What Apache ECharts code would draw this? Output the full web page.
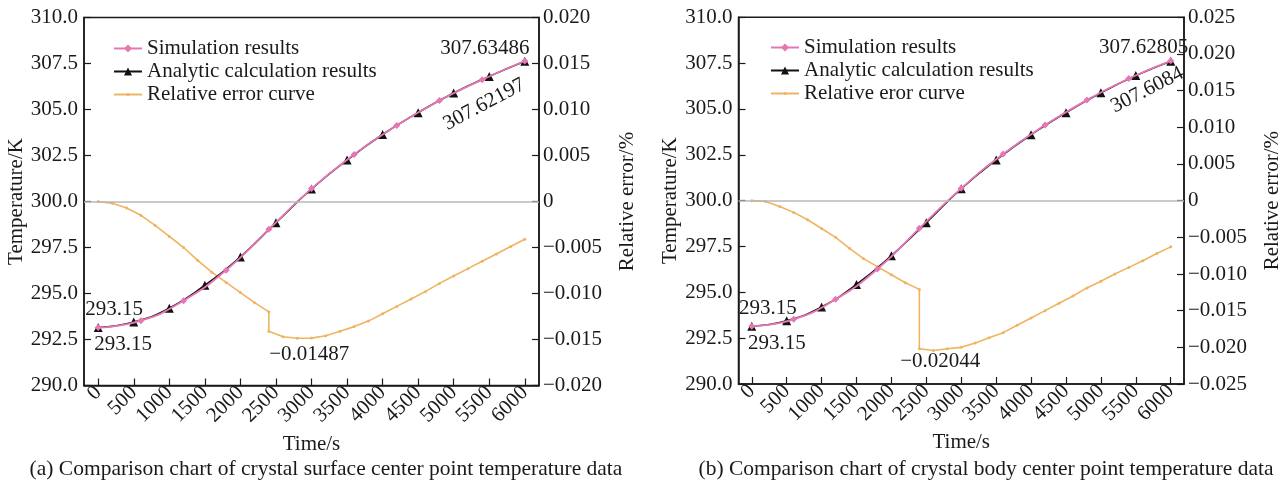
<!DOCTYPE html>
<html>
<head>
<meta charset="utf-8">
<title>Crystal temperature comparison</title>
<script src="https://cdn.jsdelivr.net/npm/echarts@6/dist/echarts.min.js"></script>
<style>
  html, body { margin: 0; padding: 0; background: #fff; }
  #main { width: 1284px; height: 480px; }
</style>
</head>
<body>
<div id="main"></div>
<script>
// tick positions on the time axis
var timeTicks = [0, 500, 1000, 1500, 2000, 2500, 3000, 3500, 4000, 4500, 5000, 5500, 6000];

// sample times
var simTimes = [0, 600, 1200, 1800, 2400, 3000, 3600, 4200, 4800, 5400, 6000];
var anaTimes = [0, 500, 1000, 1500, 2000, 2500, 3000, 3500, 4000, 4500, 5000, 5500, 6000];
var errTimes = [0, 200, 400, 600, 800, 1000, 1200, 1400, 1600, 1800, 2000, 2200, 2400, 2400,
                2600, 2800, 3000, 3200, 3400, 3600, 3800, 4000, 4200, 4400, 4600, 4800,
                5000, 5200, 5400, 5600, 5800, 6000];

// (a) crystal surface center point
var simA = [293.15, 293.52, 294.61, 296.27, 298.49, 300.70, 302.56, 304.13, 305.49, 306.62, 307.63486];
var anaA = [293.15, 293.45, 294.20, 295.45, 296.99, 298.85, 300.68, 302.25, 303.64, 304.83, 305.90, 306.80, 307.62197];
var errA = [0, -0.0002, -0.0007, -0.0015, -0.0026, -0.0038, -0.0050, -0.0064, -0.0077, -0.0088, -0.0099, -0.0110, -0.0120, -0.0141,
            -0.0147, -0.01487, -0.01485, -0.0146, -0.0141, -0.0136, -0.0130, -0.0122, -0.0114, -0.0106, -0.0098, -0.0089,
            -0.0081, -0.0073, -0.0065, -0.0057, -0.0049, -0.0041];

// (b) crystal body center point
var simB = [293.15, 293.53, 294.62, 296.27, 298.49, 300.67, 302.54, 304.12, 305.49, 306.66, 307.62805];
var anaB = [293.15, 293.45, 294.20, 295.43, 297.00, 298.80, 300.65, 302.22, 303.60, 304.80, 305.88, 306.82, 307.6084];
var errB = [0, -0.0001, -0.0008, -0.0016, -0.0026, -0.0038, -0.0050, -0.0065, -0.0079, -0.0090, -0.0101, -0.0112, -0.0121, -0.0202,
            -0.02044, -0.0202, -0.0200, -0.0194, -0.0187, -0.0180, -0.0170, -0.0160, -0.0150, -0.0140, -0.0130, -0.0119,
            -0.0110, -0.0100, -0.0091, -0.0082, -0.0072, -0.0063];

var names = ['Simulation results', 'Analytic calculation results'];
var errNames = ['Relative error curve', 'Relative eror curve'];
var captions = ['(a) Comparison chart of crystal surface center point temperature data',
                '(b) Comparison chart of crystal body center point temperature data'];

var FONT = 'Liberation Serif';
var INK = '#1a1a1a';
var PINK = '#e477b4';
var ORANGE = '#efb462';

function pairs(xs, ys) {
    return xs.map(function(x, i) { return [x, ys[i]]; });
}

function note(text, dx, dy, rot) {
    return {
        show: true, formatter: text, position: 'inside', offset: [dx, dy], rotate: rot || 0,
        color: INK, fontFamily: FONT, fontSize: 21
    };
}

// put a text note on one point of a series
function withNote(data, idx, lbl) {
    data[idx] = { value: data[idx], label: lbl };
    return data;
}

function errLabel(v) {
    if (Math.abs(v) < 1e-9) return '0';
    return (v < 0 ? '\u2212' : '') + Math.abs(v).toFixed(3);
}

var panels = [
    { grid: { left: 84, top: 17.5, width: 455, height: 368 }, xMin: -200, xMax: 6200, errMax: 0.02,
      sim: simA, ana: anaA, err: errA, errName: errNames[0], legendLeft: 113, legendTop: 38,
      simEnd: ['307.63486', -40, -13], anaEnd: ['307.62197', -56, 19, 28],
      errMin: ['\u22120.01487', 12, 16], errMinIdx: 15, caption: captions[0], capX: 321 },
    { grid: { left: 738.5, top: 17.3, width: 452, height: 366.7 }, xMin: -190, xMax: 6190, errMax: 0.025,
      sim: simB, ana: anaB, err: errB, errName: errNames[1], legendLeft: 770, legendTop: 37,
      simEnd: ['307.62805', -27, -13], anaEnd: ['307.6084', -34, 15, 27],
      errMin: ['\u22120.02044', 7, 11], errMinIdx: 14, caption: captions[1], capX: 981 }
];

var option = {
    backgroundColor: '#fff',
    animation: false,
    textStyle: { fontFamily: FONT },
    grid: [], xAxis: [], yAxis: [], series: [], legend: [], title: []
};

var legendText = { color: INK, fontSize: 21, fontFamily: FONT, lineHeight: 21 };

panels.forEach(function(p, i) {
    option.grid.push(Object.assign({ show: true, borderColor: INK, borderWidth: 1.5 }, p.grid));

    option.xAxis.push({
        type: 'value', gridIndex: i, min: p.xMin, max: p.xMax,
        name: 'Time/s', nameLocation: 'middle', nameGap: 41,
        nameTextStyle: { color: INK, fontSize: 21, fontFamily: FONT },
        axisLine: { onZero: false, lineStyle: { color: INK, width: 1.5 } },
        axisTick: { inside: true, length: 7, customValues: timeTicks, lineStyle: { color: INK, width: 1.2 } },
        axisLabel: { customValues: timeTicks, rotate: 45, margin: 4, color: INK, fontSize: 21, fontFamily: FONT,
                     formatter: function(v) { return String(v); } },
        splitLine: { show: false }
    });

    option.yAxis.push({
        type: 'value', gridIndex: i, min: 290, max: 310, interval: 2.5,
        name: 'Temperature/K', nameLocation: 'middle', nameGap: 54,
        nameTextStyle: { color: INK, fontSize: 21, fontFamily: FONT },
        axisLine: { show: true, onZero: false, lineStyle: { color: INK, width: 1.5 } },
        axisTick: { inside: true, length: 7, lineStyle: { color: INK, width: 1.2 } },
        axisLabel: { margin: 6, color: INK, fontSize: 21, fontFamily: FONT,
                     formatter: function(v) { return v.toFixed(1); } },
        splitLine: { show: false }
    });
    option.yAxis.push({
        type: 'value', gridIndex: i, position: 'right', min: -p.errMax, max: p.errMax, interval: 0.005,
        name: 'Relative error/%', nameLocation: 'middle', nameGap: 78, nameRotate: 90,
        nameTextStyle: { color: INK, fontSize: 21, fontFamily: FONT },
        axisLine: { show: true, onZero: false, lineStyle: { color: INK, width: 1.5 } },
        axisTick: { inside: true, length: 7, lineStyle: { color: INK, width: 1.2 } },
        axisLabel: { margin: 4, color: INK, fontSize: 21, fontFamily: FONT, formatter: errLabel },
        splitLine: { show: false }
    });

    var anaData = pairs(anaTimes, p.ana);
    withNote(anaData, 0, note('293.15', 25, 17));
    withNote(anaData, anaData.length - 1, note(p.anaEnd[0], p.anaEnd[1], p.anaEnd[2], p.anaEnd[3]));

    var simData = pairs(simTimes, p.sim);
    withNote(simData, 0, note('293.15', 16, -18));
    withNote(simData, simData.length - 1, note(p.simEnd[0], p.simEnd[1], p.simEnd[2]));

    var errData = pairs(errTimes, p.err);
    withNote(errData, p.errMinIdx, note(p.errMin[0], p.errMin[1], p.errMin[2]));

    option.series.push({
        name: p.errName, type: 'line', xAxisIndex: i, yAxisIndex: i * 2 + 1,
        data: errData, symbol: 'circle', symbolSize: 3,
        lineStyle: { color: ORANGE, width: 1.6 }, itemStyle: { color: ORANGE },
        markLine: {
            silent: true, symbol: 'none', label: { show: false },
            lineStyle: { color: '#b9b9b9', width: 1.5, type: 'solid' },
            data: [{ yAxis: 0 }]
        },
        z: 2
    });
    option.series.push({
        name: names[1], type: 'line', xAxisIndex: i, yAxisIndex: i * 2,
        data: anaData, smooth: true, symbol: 'triangle', symbolSize: 9,
        lineStyle: { color: '#111', width: 1.6 }, itemStyle: { color: '#111' },
        z: 3
    });
    option.series.push({
        name: names[0], type: 'line', xAxisIndex: i, yAxisIndex: i * 2,
        data: simData, smooth: true, symbol: 'diamond', symbolSize: 7,
        lineStyle: { color: PINK, width: 1.8 }, itemStyle: { color: PINK },
        z: 4
    });

    // two legends so the error entry can have a tiny marker
    option.legend.push({
        orient: 'vertical', left: p.legendLeft, top: p.legendTop, padding: 0,
        data: [names[0], names[1]],
        itemWidth: 28, itemHeight: 10, itemGap: 2,
        textStyle: legendText
    });
    option.legend.push({
        orient: 'vertical', left: p.legendLeft, top: p.legendTop + 46, padding: 0,
        data: [p.errName],
        itemWidth: 28, itemHeight: 4,
        textStyle: legendText
    });

    option.title.push({
        text: p.caption, left: p.capX, top: 453, textAlign: 'center',
        textStyle: { color: INK, fontSize: 21.5, fontWeight: 'normal', fontFamily: FONT }
    });
});

var myChart = echarts.init(document.getElementById('main'));
myChart.setOption(option);
</script>
</body>
</html>
